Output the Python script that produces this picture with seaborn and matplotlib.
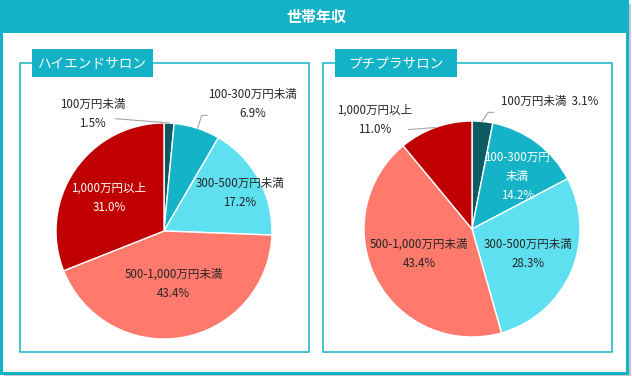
import matplotlib
matplotlib.use("Agg")
import matplotlib.pyplot as plt
import matplotlib.patches as mpatches
import seaborn as sns

# ---- data ----
categories = ["100万円未満", "100-300万円未満", "300-500万円未満", "500-1,000万円未満", "1,000万円以上"]
highend = [1.5, 6.9, 17.2, 43.4, 31.0]
petit = [3.1, 14.2, 28.3, 43.4, 11.0]
panel_titles = ["ハイエンドサロン", "プチプラサロン"]
title = "世帯年収"

colors = ["#0D5C63", "#15B3C7", "#5EE0F0", "#FF796D", "#C00000"]
teal = "#14B2C6"

sns.set_theme(style="white")
plt.rcParams["font.family"] = ["Noto Sans CJK JP", "DejaVu Sans"]

W, H = 632, 377
fig = plt.figure(figsize=(W / 100, H / 100), dpi=100)

# background in pixel coordinates (y downwards)
bg = fig.add_axes([0, 0, 1, 1])
bg.set_xlim(0, W)
bg.set_ylim(H, 0)
bg.axis("off")

# shadow + outer frame
bg.add_patch(mpatches.Rectangle((4, 4), 627, 372, facecolor="#C8C8C8", edgecolor="none"))
bg.add_patch(mpatches.Rectangle((1, 1), 626, 372, facecolor="white", edgecolor=teal, lw=2.2))
bg.add_patch(mpatches.Rectangle((0, 0), 628, 33, facecolor=teal, edgecolor="none"))
bg.text(316, 17, title, color="white", fontsize=10.8, fontweight="bold", ha="center", va="center")

# panel boxes and their label tabs
for x0, x1, tab0, tab1, name in [(20, 309, 32, 153, panel_titles[0]), (323, 612, 335, 457, panel_titles[1])]:
    bg.add_patch(mpatches.Rectangle((x0, 63), x1 - x0, 289, facecolor="none", edgecolor=teal, lw=1.1))
    bg.add_patch(mpatches.Rectangle((tab0, 49), tab1 - tab0, 28, facecolor=teal, edgecolor="none"))
    bg.text((tab0 + tab1) / 2, 63.5, name, color="white", fontsize=9.8, ha="center", va="center")

R = 108  # pie radius in px
HALF = 160


def pie_axes(cx, cy):
    return fig.add_axes([(cx - HALF) / W, 1 - (cy + HALF) / H, 2 * HALF / W, 2 * HALF / H])


def draw_pie(ax, values, labels):
    ax.pie(values, colors=colors, startangle=90, counterclock=False, radius=1,
           wedgeprops=dict(edgecolor="white", linewidth=1.0))
    ax.set_xlim(-HALF / R, HALF / R)
    ax.set_ylim(-HALF / R, HALF / R)
    ax.axis("off")
    for text, (x, y), col in labels:
        ax.text(x, y, text, ha="center", va="center", fontsize=8.3, color=col, linespacing=1.6)


dark = "#262626"
line_c = "#A6A6A6"

# left pie
ax1 = pie_axes(164, 231)
draw_pie(ax1, highend, [
    (f"{categories[0]}\n{highend[0]}%", (-0.66, 1.08), dark),
    (f"{categories[1]}\n{highend[1]}%", (0.82, 1.18), dark),
    (f"{categories[2]}\n{highend[2]}%", (0.70, 0.35), dark),
    (f"{categories[3]}\n{highend[3]}%", (0.09, -0.49), dark),
    (f"{categories[4]}\n{highend[4]}%", (-0.51, 0.31), "white"),
])
ax1.plot([-0.45, 0.05], [1.04, 1.0], color=line_c, lw=0.8)
ax1.plot([0.31, 0.35, 0.40], [0.95, 1.07, 1.07], color=line_c, lw=0.8)

# right pie
ax2 = pie_axes(472, 229)
draw_pie(ax2, petit, [
    (f"{categories[0]}  {petit[0]}%", (0.72, 1.18), dark),
    (f"100-300万円\n未満\n{petit[1]}%", (0.42, 0.49), "white"),
    (f"{categories[2]}\n{petit[2]}%", (0.52, -0.23), dark),
    (f"{categories[3]}\n{petit[3]}%", (-0.49, -0.23), dark),
    (f"{categories[4]}\n{petit[4]}%", (-0.90, 1.01), dark),
])
ax2.plot([0.09, 0.15, 0.20], [0.99, 1.08, 1.08], color=line_c, lw=0.8)
ax2.plot([-0.59, -0.34], [0.92, 0.94], color=line_c, lw=0.8)

fig.savefig("out.png", dpi=100)
